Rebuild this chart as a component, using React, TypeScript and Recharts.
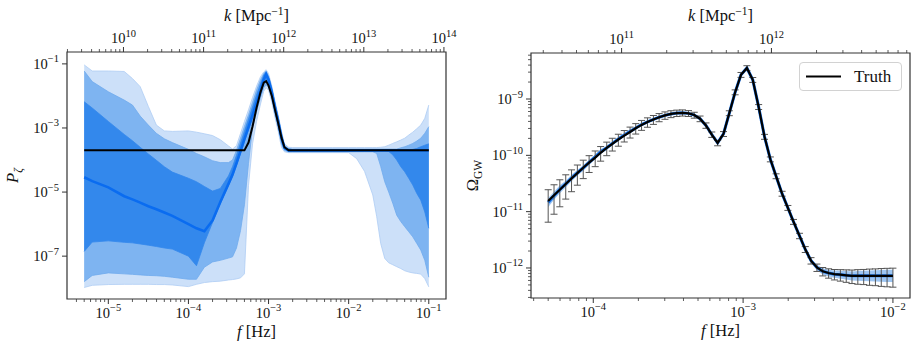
import React from "react";
import { ComposedChart, Area, Line, XAxis, YAxis, ErrorBar, ReferenceArea, Legend } from "recharts";

const FONT = "'Liberation Serif', 'Times New Roman', serif";
const INK = "#111111";
const SPINE = "#333333";
const K_PER_HZ = 6.47e14; // k [Mpc^-1] per f [Hz]

// ---- left panel: reconstructed P_zeta ----
const pFreq = [
  5.0e-6, 6.3e-6, 1.0e-5, 1.58e-5, 2.0e-5, 2.5e-5, 3.16e-5, 3.98e-5, 5.0e-5, 6.3e-5,
  1.0e-4, 1.26e-4, 1.58e-4, 2.0e-4, 2.5e-4, 3.16e-4, 3.55e-4, 3.98e-4, 4.47e-4, 5.0e-4,
  5.62e-4, 6.31e-4, 7.08e-4, 7.94e-4, 8.71e-4, 9.33e-4, 1.0e-3, 1.1e-3, 1.2e-3, 1.32e-3,
  1.45e-3, 1.58e-3, 1.78e-3, 2.0e-3, 3.16e-3, 6.31e-3, 1.0e-2, 1.26e-2, 1.58e-2, 2.0e-2,
  2.24e-2, 2.51e-2, 2.82e-2, 3.16e-2, 3.55e-2, 3.98e-2, 4.47e-2, 5.01e-2, 5.62e-2, 6.31e-2,
  7.08e-2, 7.94e-2, 8.91e-2, 1.0e-1,
];
const pTruth = [
  2e-4, 2e-4, 2e-4, 2e-4, 2e-4, 2e-4, 2e-4, 2e-4, 2e-4, 2e-4,
  2e-4, 2e-4, 2e-4, 2e-4, 2e-4, 2e-4, 2e-4, 2e-4, 2e-4, 2e-4,
  3.5e-4, 1.12e-3, 4.2e-3, 1.32e-2, 2.6e-2, 2.9e-2, 2.1e-2, 1.0e-2, 3.8e-3, 1.4e-3,
  5.0e-4, 2.5e-4, 2e-4, 2e-4, 2e-4, 2e-4, 2e-4, 2e-4, 2e-4, 2e-4,
  2e-4, 2e-4, 2e-4, 2e-4, 2e-4, 2e-4, 2e-4, 2e-4, 2e-4, 2e-4,
  2e-4, 2e-4, 2e-4, 2e-4,
];
const pMedian = [
  2.9e-5, 2.2e-5, 1.4e-5, 7.4e-6, 5.9e-6, 4.7e-6, 3.6e-6, 2.9e-6, 2.3e-6, 1.8e-6,
  1.0e-6, 7.4e-7, 6.0e-7, 1.3e-6, 4.9e-6, 1.8e-5, 3.5e-5, 7.9e-5, 1.9e-4, 4.5e-4,
  1.05e-3, 2.5e-3, 6.0e-3, 1.4e-2, 3.2e-2, 4.7e-2, 3.2e-2, 1.26e-2, 4.5e-3, 1.6e-3,
  5.0e-4, 2.4e-4, 2e-4, 2e-4, 2e-4, 2e-4, 2e-4, 2e-4, 2e-4, 2e-4,
  2e-4, 2e-4, 2e-4, 2e-4, 2e-4, 2e-4, 2e-4, 2e-4, 2e-4, 2e-4,
  2e-4, 2e-4, 2e-4, 2e-4,
];
const pInnerLo = [
  1.4e-7, 2.75e-7, 3.0e-7, 2.7e-7, 2.6e-7, 2.4e-7, 2.2e-7, 2.0e-7, 1.8e-7, 1.66e-7,
  1.0e-7, 5.0e-8, 2.6e-7, 1.12e-6, 4.4e-6, 1.6e-5, 3.0e-5, 6.9e-5, 1.6e-4, 3.8e-4,
  8.9e-4, 2.1e-3, 5.0e-3, 1.1e-2, 2.4e-2, 3.5e-2, 2.5e-2, 1.0e-2, 3.5e-3, 1.26e-3,
  4.0e-4, 2.2e-4, 1.9e-4, 1.9e-4, 1.9e-4, 1.9e-4, 1.9e-4, 1.9e-4, 1.9e-4, 1.9e-4,
  1.9e-4, 1.9e-4, 1.9e-4, 1.85e-4, 1.45e-4, 1.0e-4, 6.2e-5, 4.3e-5, 2.7e-5, 1.65e-5,
  9.1e-6, 5.6e-6, 2.4e-6, 7.4e-7,
];
const pInnerHi = [
  6.6e-3, 4.2e-3, 1.6e-3, 6.3e-4, 4.0e-4, 2.5e-4, 1.55e-4, 9.8e-5, 6.2e-5, 4.2e-5,
  2.7e-5, 2.1e-5, 1.5e-5, 1.07e-5, 1.3e-5, 3.2e-5, 6.2e-5, 1.4e-4, 3.4e-4, 7.9e-4,
  1.9e-3, 4.5e-3, 1.07e-2, 2.4e-2, 4.5e-2, 5.6e-2, 3.8e-2, 1.6e-2, 5.6e-3, 2.0e-3,
  6.3e-4, 2.6e-4, 2.2e-4, 2.1e-4, 2.1e-4, 2.1e-4, 2.1e-4, 2.1e-4, 2.1e-4, 2.1e-4,
  2.1e-4, 2.1e-4, 2.1e-4, 2.1e-4, 2.1e-4, 2.1e-4, 2.1e-4, 2.1e-4, 2.1e-4, 2.15e-4,
  2.3e-4, 2.6e-4, 2.9e-4, 3.2e-4,
];
const pMidLo = [
  1.6e-8, 2.5e-8, 3.0e-8, 2.8e-8, 2.7e-8, 2.6e-8, 2.5e-8, 2.45e-8, 2.35e-8, 2.2e-8,
  1.9e-8, 1.9e-8, 4.5e-8, 6.6e-8, 7.4e-8, 8.7e-8, 9.5e-8, 1.8e-7, 6.3e-7, 4.0e-6,
  7.9e-5, 1.0e-3, 3.2e-3, 8.9e-3, 1.8e-2, 2.2e-2, 1.9e-2, 7.9e-3, 2.8e-3, 1.0e-3,
  3.2e-4, 2.0e-4, 1.8e-4, 1.8e-4, 1.8e-4, 1.8e-4, 1.8e-4, 1.8e-4, 1.8e-4, 1.8e-4,
  1.6e-4, 6.3e-5, 2.1e-5, 1.0e-5, 4.5e-6, 1.9e-6, 1.2e-6, 8.3e-7, 5.8e-7, 4.0e-7,
  2.5e-7, 1.55e-7, 7.4e-8, 2.2e-8,
];
const pMidHi = [
  6.0e-2, 2.8e-2, 1.35e-2, 7.4e-3, 5.2e-3, 2.35e-3, 1.23e-3, 6.8e-4, 4.6e-4, 3.5e-4,
  2.15e-4, 1.6e-4, 1.26e-4, 9.5e-5, 8.3e-5, 8.3e-5, 1.0e-4, 2.0e-4, 4.8e-4, 1.12e-3,
  2.6e-3, 6.3e-3, 1.5e-2, 3.2e-2, 5.0e-2, 6.0e-2, 4.2e-2, 1.8e-2, 6.3e-3, 2.2e-3,
  7.1e-4, 2.8e-4, 2.3e-4, 2.2e-4, 2.2e-4, 2.2e-4, 2.2e-4, 2.2e-4, 2.2e-4, 2.2e-4,
  2.2e-4, 2.2e-4, 2.2e-4, 2.2e-4, 2.2e-4, 2.2e-4, 2.4e-4, 2.6e-4, 2.9e-4, 3.3e-4,
  3.9e-4, 4.8e-4, 6.8e-4, 1.1e-3,
];
const pOuterLo = [
  1.05e-8, 1.23e-8, 1.3e-8, 1.32e-8, 1.32e-8, 1.32e-8, 1.32e-8, 1.3e-8, 1.3e-8, 1.26e-8,
  1.12e-8, 1.32e-8, 1.5e-8, 1.6e-8, 1.66e-8, 1.8e-8, 1.86e-8, 1.95e-8, 2.1e-8, 2.8e-8,
  1.6e-5, 3.2e-4, 1.6e-3, 5.6e-3, 1.4e-2, 1.8e-2, 1.5e-2, 6.3e-3, 2.2e-3, 7.9e-4,
  2.5e-4, 1.8e-4, 1.7e-4, 1.7e-4, 1.7e-4, 1.7e-4, 1.7e-4, 1.1e-4, 4.4e-5, 8.1e-6,
  1.7e-6, 2.5e-7, 8.5e-8, 6.2e-8, 5.4e-8, 4.7e-8, 4.1e-8, 3.5e-8, 3.2e-8, 3.0e-8,
  2.9e-8, 2.75e-8, 2.0e-8, 1.1e-8,
];
const pOuterHi = [
  9.3e-2, 6.0e-2, 6.0e-2, 5.8e-2, 3.5e-2, 1.95e-2, 4.7e-3, 1.23e-3, 8.1e-4, 7.8e-4,
  8.1e-4, 7.4e-4, 6.6e-4, 5.8e-4, 4.3e-4, 2.75e-4, 2.2e-4, 2.8e-4, 6.8e-4, 1.6e-3,
  3.7e-3, 8.9e-3, 2.0e-2, 4.0e-2, 5.6e-2, 6.6e-2, 5.0e-2, 2.0e-2, 7.1e-3, 2.5e-3,
  7.9e-4, 3.2e-4, 2.5e-4, 2.45e-4, 2.45e-4, 2.45e-4, 2.45e-4, 2.45e-4, 2.45e-4, 2.45e-4,
  2.45e-4, 2.5e-4, 2.6e-4, 2.9e-4, 3.3e-4, 3.7e-4, 4.2e-4, 4.8e-4, 6.0e-4, 7.4e-4,
  9.5e-4, 1.23e-3, 2.0e-3, 5.2e-3,
];

// ---- right panel: Omega_GW ----
const omegaFreq = [
  5.00e-5, 5.47e-5, 5.98e-5, 6.55e-5, 7.16e-5, 7.83e-5, 8.57e-5, 9.38e-5, 1.03e-4, 1.12e-4,
  1.23e-4, 1.34e-4, 1.47e-4, 1.61e-4, 1.76e-4, 1.92e-4, 2.10e-4, 2.30e-4, 2.52e-4, 2.75e-4,
  3.01e-4, 3.30e-4, 3.61e-4, 3.94e-4, 4.32e-4, 4.72e-4, 5.16e-4, 5.65e-4, 6.18e-4, 6.76e-4,
  7.40e-4, 8.09e-4, 8.85e-4, 9.68e-4, 1.06e-3, 1.16e-3, 1.27e-3, 1.39e-3, 1.52e-3, 1.66e-3,
  1.82e-3, 1.99e-3, 2.17e-3, 2.38e-3, 2.60e-3, 2.84e-3, 3.11e-3, 3.40e-3, 3.72e-3, 4.07e-3,
  4.46e-3, 4.88e-3, 5.33e-3, 5.83e-3, 6.38e-3, 6.98e-3, 7.64e-3, 8.36e-3, 9.14e-3, 1.00e-2,
];
const omegaTruth = [
  1.55e-11, 1.95e-11, 2.45e-11, 3.09e-11, 3.89e-11, 4.84e-11, 6.03e-11, 7.41e-11, 9.12e-11, 1.11e-10,
  1.35e-10, 1.60e-10, 1.91e-10, 2.24e-10, 2.60e-10, 3.02e-10, 3.47e-10, 3.89e-10, 4.32e-10, 4.73e-10,
  5.13e-10, 5.43e-10, 5.62e-10, 5.69e-10, 5.56e-10, 5.19e-10, 4.47e-10, 3.39e-10, 2.34e-10, 1.66e-10,
  2.40e-10, 5.62e-10, 1.32e-9, 2.69e-9, 3.55e-9, 2.19e-9, 7.24e-10, 2.14e-10, 8.51e-11, 4.27e-11,
  2.09e-11, 1.17e-11, 6.61e-12, 3.72e-12, 2.14e-12, 1.35e-12, 1.02e-12, 8.71e-13, 8.13e-13, 7.76e-13,
  7.59e-13, 7.41e-13, 7.24e-13, 7.24e-13, 7.24e-13, 7.24e-13, 7.24e-13, 7.24e-13, 7.24e-13, 7.24e-13,
];
const omegaRecon = [
  1.45e-11, 1.92e-11, 2.5e-11, 3.1e-11, 3.95e-11, 4.9e-11, 6.0e-11, 7.5e-11, 9.4e-11, 1.16e-10,
  1.36e-10, 1.62e-10, 1.95e-10, 2.3e-10, 2.66e-10, 3.05e-10, 3.52e-10, 3.93e-10, 4.35e-10, 4.75e-10,
  5.13e-10, 5.43e-10, 5.62e-10, 5.69e-10, 5.56e-10, 5.19e-10, 4.47e-10, 3.39e-10, 2.34e-10, 1.66e-10,
  2.40e-10, 5.62e-10, 1.32e-9, 2.69e-9, 3.55e-9, 2.19e-9, 7.24e-10, 2.14e-10, 8.51e-11, 4.27e-11,
  2.09e-11, 1.17e-11, 6.61e-12, 3.72e-12, 2.14e-12, 1.35e-12, 1.02e-12, 8.71e-13, 8.13e-13, 7.76e-13,
  7.59e-13, 7.41e-13, 7.24e-13, 7.24e-13, 7.24e-13, 7.24e-13, 7.24e-13, 7.24e-13, 7.24e-13, 7.24e-13,
];
const omegaErr = [
  9.0e-12, 1.05e-11, 1.23e-11, 1.42e-11, 1.63e-11, 1.89e-11, 2.17e-11, 2.45e-11, 2.83e-11, 3.22e-11,
  3.65e-11, 4.08e-11, 4.58e-11, 5.15e-11, 5.72e-11, 6.34e-11, 6.94e-11, 7.39e-11, 7.78e-11, 7.80e-11,
  7.70e-11, 7.60e-11, 7.31e-11, 7.11e-11, 6.67e-11, 6.23e-11, 5.14e-11, 3.73e-11, 2.57e-11, 1.83e-11,
  2.4e-11, 5.62e-11, 1.32e-10, 2.69e-10, 3.55e-10, 2.19e-10, 7.24e-11, 2.14e-11, 8.51e-12, 4.27e-12,
  2.09e-12, 1.17e-12, 6.61e-13, 4.09e-13, 2.57e-13, 1.76e-13, 1.53e-13, 1.48e-13, 1.54e-13, 1.63e-13,
  1.75e-13, 1.85e-13, 1.95e-13, 2.10e-13, 2.17e-13, 2.32e-13, 2.39e-13, 2.53e-13, 2.61e-13, 2.68e-13,
];
const omegaBandLo = [
  1.2e-11, 1.62e-11, 2.12e-11, 2.7e-11, 3.45e-11, 4.35e-11, 5.35e-11, 6.75e-11, 8.55e-11, 1.06e-10,
  1.26e-10, 1.51e-10, 1.82e-10, 2.15e-10, 2.5e-10, 2.88e-10, 3.31e-10, 3.71e-10, 4.13e-10, 4.52e-10,
  4.90e-10, 5.19e-10, 5.37e-10, 5.43e-10, 5.31e-10, 4.96e-10, 4.27e-10, 3.24e-10, 2.23e-10, 1.59e-10,
  2.29e-10, 5.37e-10, 1.26e-9, 2.57e-9, 3.39e-9, 2.09e-9, 6.91e-10, 2.04e-10, 8.13e-11, 4.08e-11,
  2.0e-11, 1.12e-11, 6.31e-12, 3.55e-12, 2.0e-12, 1.23e-12, 9.1e-13, 7.67e-13, 7.08e-13, 6.68e-13,
  6.46e-13, 6.23e-13, 6.02e-13, 5.95e-13, 5.89e-13, 5.82e-13, 5.75e-13, 5.68e-13, 5.62e-13, 5.62e-13,
];
const omegaBandHi = [
  1.75e-11, 2.25e-11, 2.93e-11, 3.55e-11, 4.5e-11, 5.5e-11, 6.7e-11, 8.3e-11, 1.03e-10, 1.27e-10,
  1.47e-10, 1.74e-10, 2.09e-10, 2.46e-10, 2.82e-10, 3.23e-10, 3.63e-10, 4.07e-10, 4.52e-10, 4.95e-10,
  5.37e-10, 5.69e-10, 5.88e-10, 5.96e-10, 5.82e-10, 5.43e-10, 4.68e-10, 3.55e-10, 2.45e-10, 1.74e-10,
  2.51e-10, 5.88e-10, 1.38e-9, 2.82e-9, 3.72e-9, 2.29e-9, 7.58e-10, 2.24e-10, 8.91e-11, 4.47e-11,
  2.19e-11, 1.22e-11, 6.92e-12, 3.89e-12, 2.29e-12, 1.48e-12, 1.14e-12, 9.89e-13, 9.33e-13, 9.01e-13,
  8.92e-13, 8.81e-13, 8.70e-13, 8.80e-13, 8.91e-13, 9.01e-13, 9.11e-13, 9.22e-13, 9.33e-13, 9.33e-13,
];

// axis ranges and decades for tick marks
const pFreqDomain = [3.05e-6, 0.164];
const pDomain = [4.6e-9, 0.235];
const pFreqDecades = [1e-6, 1e-5, 1e-4, 1e-3, 1e-2, 1e-1];
const pKDecades = [1e9, 1e10, 1e11, 1e12, 1e13, 1e14];
const pTicks = [1e-7, 1e-5, 1e-3, 1e-1];

const omegaFreqDomain = [3.84e-5, 1.3e-2];
const omegaDomain = [2.93e-13, 6.56e-9];
const omegaFreqDecades = [1e-5, 1e-4, 1e-3, 1e-2];
const omegaKDecades = [1e10, 1e11, 1e12];
const omegaDecades = [1e-13, 1e-12, 1e-11, 1e-10, 1e-9];

function logTicks(decades: number[], lo: number, hi: number, unit = 1) {
  const out: number[] = [];
  decades.forEach((d) => {
    for (let m = 1; m < 10; m++) {
      const v = m * d;
      if (v >= lo * unit && v <= hi * unit) out.push(v / unit);
    }
  });
  return out;
}

function isDecade(v: number) {
  const l = Math.log10(v);
  return Math.abs(l - Math.round(l)) < 1e-6;
}

function Pow10({ x, y, value, anchor }: { x: number; y: number; value: number; anchor: "middle" | "end" }) {
  const e = Math.round(Math.log10(value));
  return (
    <text x={x} y={y} textAnchor={anchor} fontFamily={FONT} fontSize={14.5} fill={INK}>
      10<tspan dy={-6.5} fontSize={10.5}>{e < 0 ? "\u2212" + -e : String(e)}</tspan>
    </text>
  );
}

function FTick(props: any) {
  const { x, y, payload } = props;
  const major = isDecade(payload.value);
  return (
    <g>
      <line x1={x} x2={x} y1={y} y2={y + (major ? 5 : 3)} stroke={SPINE} strokeWidth={major ? 1 : 0.8} />
      {major && <Pow10 x={x} y={y + 18.5} value={payload.value} anchor="middle" />}
    </g>
  );
}

function KTick(props: any) {
  const { x, y, payload } = props;
  const k = payload.value * K_PER_HZ;
  const major = isDecade(k);
  return (
    <g>
      <line x1={x} x2={x} y1={y} y2={y - (major ? 5 : 3)} stroke={SPINE} strokeWidth={major ? 1 : 0.8} />
      {major && <Pow10 x={x} y={y - 9} value={k} anchor="middle" />}
    </g>
  );
}

function YTick(props: any) {
  const { x, y, payload } = props;
  const major = isDecade(payload.value);
  return (
    <g>
      <line x1={x - (major ? 5 : 3)} x2={x} y1={y} y2={y} stroke={SPINE} strokeWidth={major ? 1 : 0.8} />
      {major && <Pow10 x={x - 8} y={y + 5} value={payload.value} anchor="end" />}
    </g>
  );
}

const fTitle = (p: any) => {
  const vb = p.viewBox;
  return (
    <text x={vb.x + vb.width / 2} y={vb.y + 38} textAnchor="middle" fontFamily={FONT} fontSize={16.5} fill={INK}>
      <tspan fontStyle="italic">f</tspan>
      {" [Hz]"}
    </text>
  );
};

const kTitle = (p: any) => {
  const vb = p.viewBox;
  return (
    <text x={vb.x + vb.width / 2} y={21} textAnchor="middle" fontFamily={FONT} fontSize={16.5} fill={INK}>
      <tspan fontStyle="italic">k</tspan>
      {" [Mpc"}
      <tspan dy={-6} fontSize={11.5}>{"\u22121"}</tspan>
      <tspan dy={6}>]</tspan>
    </text>
  );
};

const yTitle = (main: string, sub: string, italic: boolean) => (p: any) => {
  const vb = p.viewBox;
  const cy = vb.y + vb.height / 2;
  return (
    <text x={18} y={cy} transform={`rotate(-90 18 ${cy})`} textAnchor="middle" fontFamily={FONT} fontSize={16.5} fill={INK}>
      <tspan fontStyle={italic ? "italic" : "normal"}>{main}</tspan>
      <tspan dy={4} fontSize={11.5} fontStyle={italic ? "italic" : "normal"}>{sub}</tspan>
    </text>
  );
};

const TruthLegend = () => (
  <div
    style={{
      boxSizing: "border-box",
      width: 103,
      height: 29,
      border: "1px solid #d2d2d2",
      borderRadius: 4,
      background: "rgba(255,255,255,0.85)",
      display: "flex",
      alignItems: "center",
      fontFamily: FONT,
      fontSize: 17,
      color: INK,
    }}
  >
    <svg width={50} height={27}>
      <line x1={6} x2={41} y1={13.5} y2={13.5} stroke="#000" strokeWidth={2} />
    </svg>
    <span style={{ marginLeft: 4 }}>Truth</span>
  </div>
);

const pRows = pFreq.map((f, i) => ({
  f,
  truth: pTruth[i],
  median: pMedian[i],
  inner: [pInnerLo[i], pInnerHi[i]],
  mid: [pMidLo[i], pMidHi[i]],
  outer: [pOuterLo[i], pOuterHi[i]],
}));

const omegaRows = omegaFreq.map((f, i) => ({
  f,
  truth: omegaTruth[i],
  recon: omegaRecon[i],
  data: omegaTruth[i],
  err: omegaErr[i],
  band: [omegaBandLo[i], omegaBandHi[i]],
}));

function PowerSpectrumPanel() {
  return (
    <ComposedChart width={460} height={350} data={pRows} margin={{ top: 0, right: 14, bottom: 0, left: 0 }}>
      <XAxis
        xAxisId="f"
        dataKey="f"
        type="number"
        scale="log"
        domain={pFreqDomain}
        allowDataOverflow
        ticks={logTicks(pFreqDecades, pFreqDomain[0], pFreqDomain[1])}
        interval={0}
        tick={FTick}
        tickSize={0}
        tickMargin={0}
        tickLine={false}
        axisLine={false}
        height={51}
        label={{ content: fTitle }}
      />
      <XAxis
        xAxisId="k"
        orientation="top"
        dataKey="f"
        type="number"
        scale="log"
        domain={pFreqDomain}
        allowDataOverflow
        ticks={logTicks(pKDecades, pFreqDomain[0], pFreqDomain[1], K_PER_HZ)}
        interval={0}
        tick={KTick}
        tickSize={0}
        tickMargin={0}
        tickLine={false}
        axisLine={false}
        height={52}
        label={{ content: kTitle }}
      />
      <YAxis
        yAxisId="p"
        type="number"
        scale="log"
        domain={pDomain}
        allowDataOverflow
        ticks={pTicks}
        interval={0}
        tick={YTick}
        tickSize={0}
        tickMargin={0}
        tickLine={false}
        axisLine={false}
        width={67}
        label={{ content: yTitle("P", "\u03b6", true) }}
      />
      <Area xAxisId="f" yAxisId="p" dataKey="outer" type="linear" fill="#cce0f9" fillOpacity={1} stroke="#aecdf4" strokeWidth={0.8} isAnimationActive={false} />
      <Area xAxisId="f" yAxisId="p" dataKey="mid" type="linear" fill="#7eb4f1" fillOpacity={1} stroke="#70abee" strokeWidth={0.8} isAnimationActive={false} />
      <Area xAxisId="f" yAxisId="p" dataKey="inner" type="linear" fill="#3388ec" fillOpacity={1} stroke="#3388ec" strokeWidth={0.8} isAnimationActive={false} />
      <Line xAxisId="f" yAxisId="p" dataKey="median" type="linear" stroke="#0a6cf0" strokeWidth={2.6} dot={false} activeDot={false} isAnimationActive={false} />
      <Line xAxisId="f" yAxisId="p" dataKey="truth" type="linear" stroke="#000" strokeWidth={2} dot={false} activeDot={false} isAnimationActive={false} />
      <Line xAxisId="k" yAxisId="p" dataKey="truth" stroke="none" dot={false} activeDot={false} isAnimationActive={false} />
      <ReferenceArea
        xAxisId="f"
        yAxisId="p"
        x1={pFreqDomain[0]}
        x2={pFreqDomain[1]}
        y1={pDomain[0]}
        y2={pDomain[1]}
        fill="none"
        fillOpacity={0}
        stroke={SPINE}
        strokeWidth={1.2}
        strokeOpacity={1}
        ifOverflow="visible"
      />
    </ComposedChart>
  );
}

function OmegaPanel() {
  return (
    <ComposedChart width={458} height={350} data={omegaRows} margin={{ top: 0, right: 8, bottom: 0, left: 0 }}>
      <XAxis
        xAxisId="f"
        dataKey="f"
        type="number"
        scale="log"
        domain={omegaFreqDomain}
        allowDataOverflow
        ticks={logTicks(omegaFreqDecades, omegaFreqDomain[0], omegaFreqDomain[1])}
        interval={0}
        tick={FTick}
        tickSize={0}
        tickMargin={0}
        tickLine={false}
        axisLine={false}
        height={52}
        label={{ content: fTitle }}
      />
      <XAxis
        xAxisId="k"
        orientation="top"
        dataKey="f"
        type="number"
        scale="log"
        domain={omegaFreqDomain}
        allowDataOverflow
        ticks={logTicks(omegaKDecades, omegaFreqDomain[0], omegaFreqDomain[1], K_PER_HZ)}
        interval={0}
        tick={KTick}
        tickSize={0}
        tickMargin={0}
        tickLine={false}
        axisLine={false}
        height={53}
        label={{ content: kTitle }}
      />
      <YAxis
        yAxisId="o"
        type="number"
        scale="log"
        domain={omegaDomain}
        allowDataOverflow
        ticks={logTicks(omegaDecades, omegaDomain[0], omegaDomain[1])}
        interval={0}
        tick={YTick}
        tickSize={0}
        tickMargin={0}
        tickLine={false}
        axisLine={false}
        width={71}
        label={{ content: yTitle("\u03a9", "GW", false) }}
      />
      <Area xAxisId="f" yAxisId="o" dataKey="band" type="linear" fill="#9ec6f3" fillOpacity={1} stroke="none" isAnimationActive={false} />
      <Line xAxisId="f" yAxisId="o" dataKey="recon" type="linear" stroke="#1573ec" strokeWidth={3} dot={false} activeDot={false} isAnimationActive={false} />
      <Line xAxisId="f" yAxisId="o" dataKey="data" stroke="none" dot={false} activeDot={false} isAnimationActive={false}>
        <ErrorBar dataKey="err" direction="y" width={3.5} stroke="#555555" strokeWidth={1} isAnimationActive={false} />
      </Line>
      <Line xAxisId="f" yAxisId="o" dataKey="truth" type="linear" stroke="#000" strokeWidth={2.2} dot={false} activeDot={false} isAnimationActive={false} />
      <Line xAxisId="k" yAxisId="o" dataKey="truth" stroke="none" dot={false} activeDot={false} isAnimationActive={false} />
      <ReferenceArea
        xAxisId="f"
        yAxisId="o"
        x1={omegaFreqDomain[0]}
        x2={omegaFreqDomain[1]}
        y1={omegaDomain[0]}
        y2={omegaDomain[1]}
        fill="none"
        fillOpacity={0}
        stroke={SPINE}
        strokeWidth={1.2}
        strokeOpacity={1}
        ifOverflow="visible"
      />
      <Legend
        content={() => <TruthLegend />}
        layout="horizontal"
        verticalAlign="middle"
        align="center"
        wrapperStyle={{ left: 339, top: 62, width: 103, height: 29 }}
      />
    </ComposedChart>
  );
}

export default function App() {
  return (
    <div style={{ position: "absolute", left: 0, top: 0, width: 918, height: 350, background: "#fff" }}>
      <div style={{ position: "absolute", left: 0, top: 0 }}>
        <PowerSpectrumPanel />
      </div>
      <div style={{ position: "absolute", left: 460, top: 0 }}>
        <OmegaPanel />
      </div>
    </div>
  );
}
